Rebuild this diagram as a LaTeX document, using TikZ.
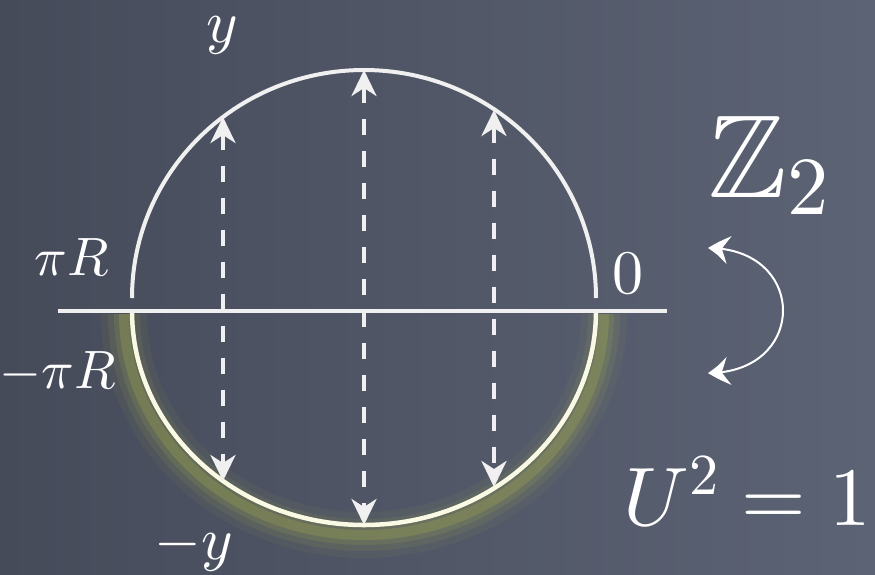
\documentclass[tikz,border=0pt]{standalone}
\usepackage{amsmath,amssymb}
\usetikzlibrary{arrows.meta,positioning,calc,bending}

% scalable math fonts
\DeclareFontShape{OML}{cmm}{m}{it}{<->cmmi10}{}
\DeclareFontShape{OT1}{cmr}{m}{n}{<->cmr10}{}
\DeclareFontShape{OMS}{cmsy}{m}{n}{<->cmsy10}{}
\DeclareFontShape{OMX}{cmex}{m}{n}{<->cmex10}{}

\definecolor{board}{RGB}{70,75,90}
\definecolor{boardlight}{RGB}{92,99,116}
\definecolor{chalk}{RGB}{240,240,240}
\definecolor{chalkcream}{RGB}{250,250,228}
\definecolor{glow}{RGB}{180,190,75}

\tikzset{
  lbl/.style={text=white, inner sep=0pt, anchor=base},
  rim/.style={chalk, line width=4pt},
  flipline/.style={chalk, line width=4pt, dash pattern=on 16pt off 16pt,
    {Stealth[length=26pt,width=25pt,inset=8pt]}-{Stealth[length=26pt,width=25pt,inset=8pt]}},
  turnarrow/.style={white, line width=2pt,
    {Stealth[length=22pt,width=28pt,inset=8pt,bend]}-{Stealth[length=22pt,width=28pt,inset=8pt,bend]}}
}

\begin{document}
\begin{tikzpicture}[x=1pt,y=-1pt]
    % chalkboard
    \shade[left color=board, right color=boardlight] (0,0) rectangle (875,574);
    \useasboundingbox (0,0) rectangle (875,574);
    % glow under the lower rim
    \foreach \w/\o in {46/0.06, 32/0.09, 20/0.13, 10/0.22}
      \draw[glow, line width=\w pt, opacity=\o] (124,314) arc[start angle=180, end angle=0, x radius=240, y radius=221];
    % upper and lower rim
    \draw[rim] (132,298) arc[start angle=180, end angle=360, x radius=232, y radius=228];
    \draw[rim, chalkcream, line width=4.5pt] (132,311) arc[start angle=180, end angle=0, x radius=232, y radius=214];
    % axis
    \coordinate (axl) at (58,311);
    \coordinate (axr) at (667,311);
    \draw[chalk, line width=4.5pt] (axl) -- (axr);
    % end points on the rim
    \coordinate (lt) at (223,117);
    \coordinate (lb) at (223,481);
    \coordinate (mt) at (364,70);
    \coordinate (mb) at (364,525);
    \coordinate (rt) at (494,110);
    \coordinate (rb) at (494,487);
    \draw[flipline] (lt) -- (lb);
    \draw[flipline] (mt) -- (mb);
    \draw[flipline] (rt) -- (rb);
    % labels
    \node[lbl, font=\fontsize{60}{60}\selectfont] (ytop) at (222,42) {$y$};
    \node[lbl, font=\fontsize{60}{60}\selectfont] (ybot) at (194,559) {$-y$};
    \node[lbl, font=\fontsize{54}{54}\selectfont] (piR) at (72,275) {$\pi R$};
    \node[lbl, font=\fontsize{54}{54}\selectfont] (mpiR) at (58,388) {$-\pi R$};
    \node[lbl, font=\fontsize{62}{62}\selectfont] (zero) at (628,293) {$0$};
    \node[lbl, font=\fontsize{118}{118}\selectfont] (ztwo) at (769,197) {$\mathbb{Z}_2$};
    \node[lbl, font=\fontsize{83}{83}\selectfont] (usq) at (747,525) {$U^2=1$};
    % the Z_2 swap
    \coordinate (zt) at (708,248);
    \coordinate (zb) at (708,373);
    \draw[turnarrow] (zt) .. controls (808,248) and (808,373) .. (zb);
\end{tikzpicture}
\end{document}
